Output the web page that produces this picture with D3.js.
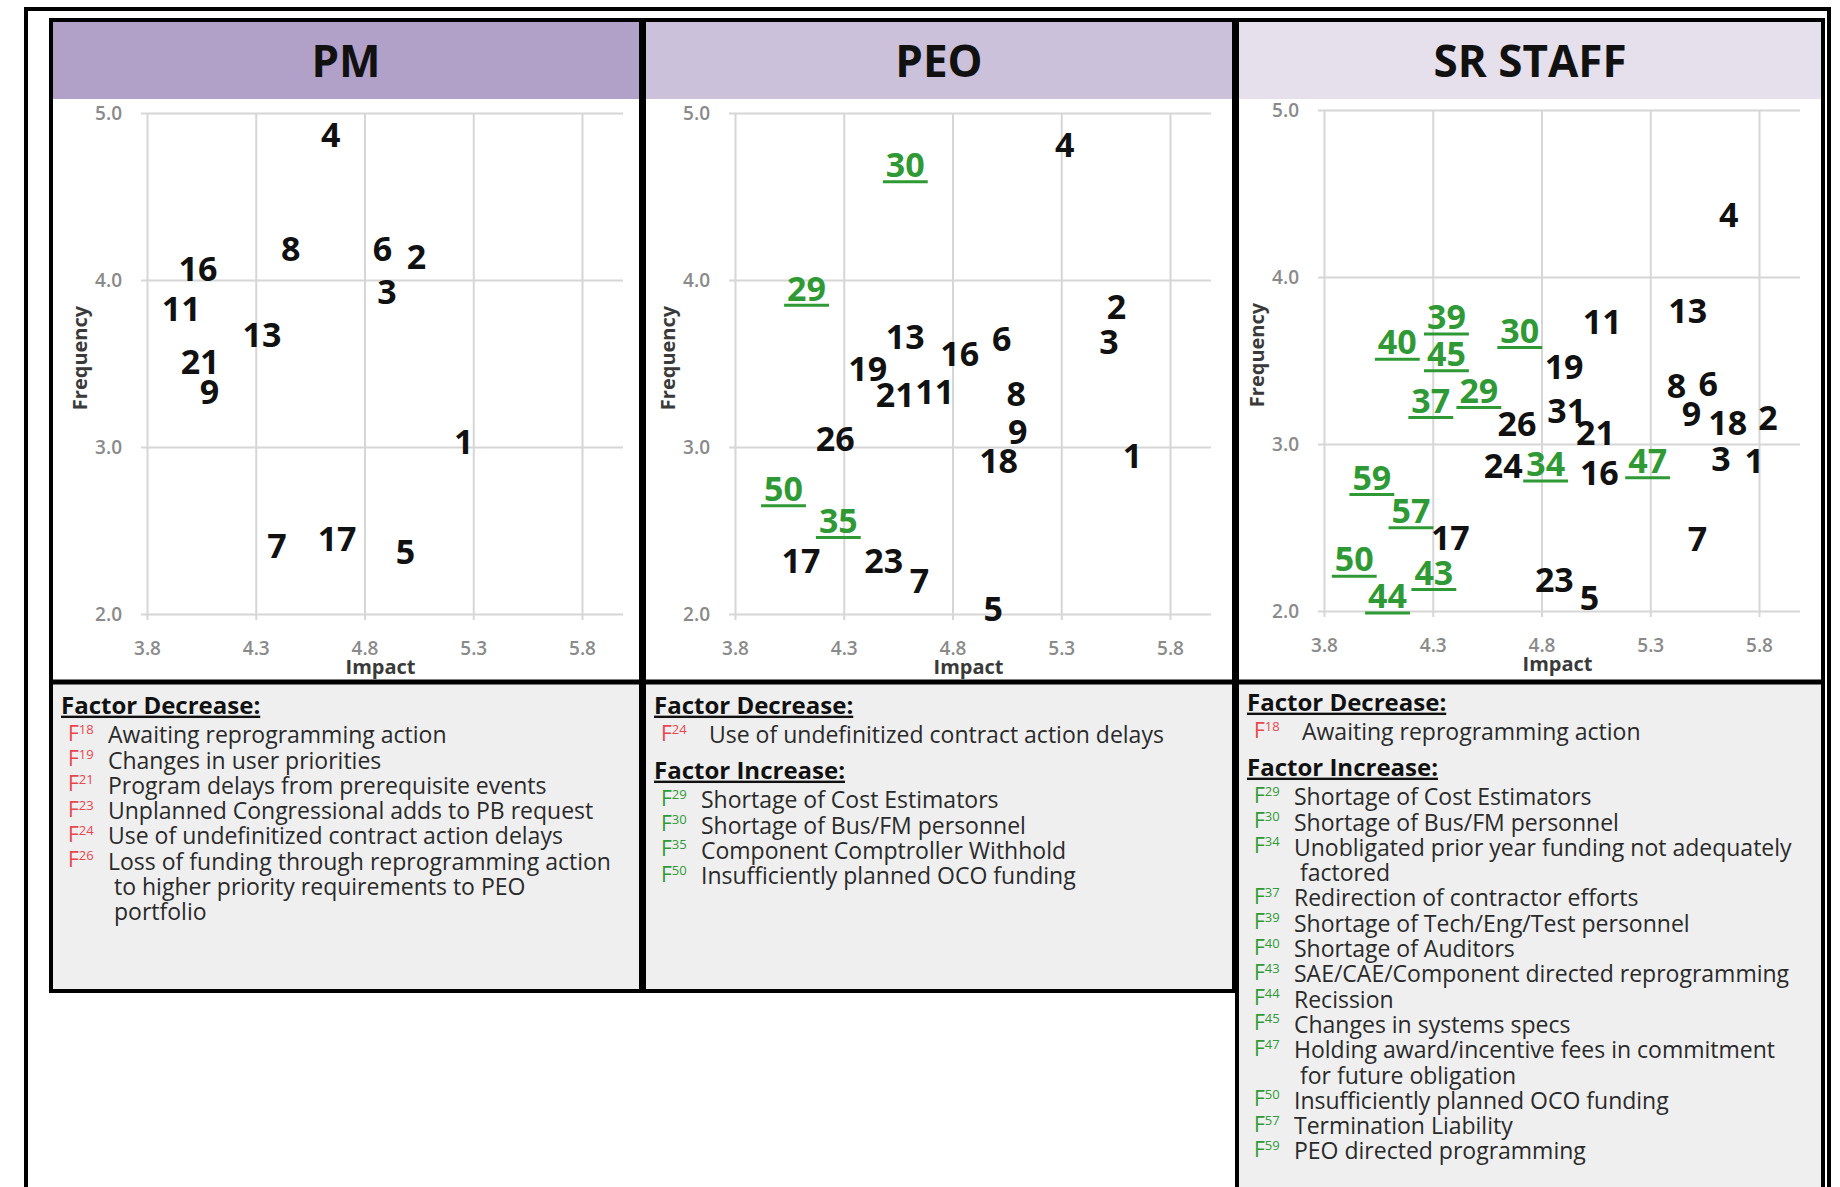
<!DOCTYPE html>
<html>
<head>
<meta charset="utf-8">
<script src="https://cdn.jsdelivr.net/npm/d3@7"></script>
<style>
  body { margin: 0; background: #fff; }
  svg { display: block; }
</style>
</head>
<body>
<div id="chart"></div>
<script>
// axis ticks, shared by all three panels
const impactTicks = [3.8, 4.3, 4.8, 5.3, 5.8];
const freqTicks = [2.0, 3.0, 4.0, 5.0];

// PM
const pmFactors = ["4", "8", "16", "6", "2", "3", "11", "13", "21", "9", "1", "7", "17", "5"];
const pmImpact  = [4.645, 4.461, 4.034, 4.883, 5.039, 4.903, 3.957, 4.329, 4.044, 4.087, 5.256, 4.397, 4.674, 4.988];
const pmFreq    = [4.87, 4.19, 4.07, 4.19, 4.14, 3.93, 3.83, 3.67, 3.51, 3.33, 3.03, 2.41, 2.45, 2.37];
const pmIncrease = [];

// PEO
const peoFactors = ["30", "4", "29", "2", "3", "13", "6", "16", "19", "21", "11", "8", "26", "9", "18", "1", "50", "35", "17", "23", "7", "5"];
const peoImpact  = [4.583, 5.316, 4.129, 5.554, 5.519, 4.583, 5.026, 4.833, 4.410, 4.537, 4.718, 5.093, 4.261, 5.100, 5.012, 5.628, 4.023, 4.275, 4.103, 4.484, 4.648, 4.987];
const peoFreq    = [4.69, 4.81, 3.95, 3.84, 3.63, 3.66, 3.65, 3.56, 3.47, 3.31, 3.33, 3.32, 3.05, 3.09, 2.92, 2.95, 2.75, 2.56, 2.32, 2.32, 2.20, 2.03];
const peoIncrease = ["30", "29", "50", "35"];

// SR STAFF
const srFactors = ["4", "13", "11", "39", "40", "30", "45", "19", "8", "6", "29", "37", "31", "9", "18", "2", "26", "21", "24", "34", "16", "47", "3", "1", "59", "57", "17", "7", "50", "43", "23", "44", "5"];
const srImpact  = [5.661, 5.472, 5.079, 4.363, 4.137, 4.700, 4.363, 4.904, 5.421, 5.566, 4.512, 4.291, 4.916, 5.490, 5.656, 5.841, 4.687, 5.048, 4.624, 4.819, 5.066, 5.288, 5.625, 5.778, 4.020, 4.200, 4.381, 5.517, 3.939, 4.305, 4.859, 4.092, 5.021];
const srFreq    = [4.37, 3.80, 3.73, 3.76, 3.61, 3.68, 3.54, 3.46, 3.35, 3.36, 3.32, 3.26, 3.20, 3.18, 3.13, 3.16, 3.12, 3.07, 2.87, 2.88, 2.83, 2.90, 2.91, 2.90, 2.80, 2.60, 2.44, 2.43, 2.31, 2.23, 2.19, 2.09, 2.08];
const srIncrease = ["39", "40", "30", "45", "29", "37", "34", "47", "59", "57", "50", "43", "44"];

// legend entries: factor number and its text lines
const pmDecrease = [
  { f: 18, lines: ["Awaiting reprogramming action"] },
  { f: 19, lines: ["Changes in user priorities"] },
  { f: 21, lines: ["Program delays from prerequisite events"] },
  { f: 23, lines: ["Unplanned Congressional adds to PB request"] },
  { f: 24, lines: ["Use of undefinitized contract action delays"] },
  { f: 26, lines: ["Loss of funding through reprogramming action", "to higher priority requirements to PEO", "portfolio"] }
];
const peoDecrease = [
  { f: 24, lines: ["Use of undefinitized contract action delays"] }
];
const peoIncreaseText = [
  { f: 29, lines: ["Shortage of Cost Estimators"] },
  { f: 30, lines: ["Shortage of Bus/FM personnel"] },
  { f: 35, lines: ["Component Comptroller Withhold"] },
  { f: 50, lines: ["Insufficiently planned OCO funding"] }
];
const srDecrease = [
  { f: 18, lines: ["Awaiting reprogramming action"] }
];
const srIncreaseText = [
  { f: 29, lines: ["Shortage of Cost Estimators"] },
  { f: 30, lines: ["Shortage of Bus/FM personnel"] },
  { f: 34, lines: ["Unobligated prior year funding not adequately", "factored"] },
  { f: 37, lines: ["Redirection of contractor efforts"] },
  { f: 39, lines: ["Shortage of Tech/Eng/Test personnel"] },
  { f: 40, lines: ["Shortage of Auditors"] },
  { f: 43, lines: ["SAE/CAE/Component directed reprogramming"] },
  { f: 44, lines: ["Recission"] },
  { f: 45, lines: ["Changes in systems specs"] },
  { f: 47, lines: ["Holding award/incentive fees in commitment", "for future obligation"] },
  { f: 50, lines: ["Insufficiently planned OCO funding"] },
  { f: 57, lines: ["Termination Liability"] },
  { f: 59, lines: ["PEO directed programming"] }
];

/* layout */
const width = 1840, height = 1187;
const font = "'Open Sans', 'DejaVu Sans', sans-serif";
const plotW = 435, plotH = 501;
const headTop = 20, headBottom = 99, divider = 682;
const red = "#e8464e", green = "#2f9a35";

const panels = [
  { title: "PM", left: 51, right: 641, bottom: 991, x0: 147, y0: 113, head: "#b1a1c8",
    factors: pmFactors, impact: pmImpact, freq: pmFreq, increase: pmIncrease,
    legend: [{ title: "Factor Decrease:", color: red, items: pmDecrease, dx: 0 }], dy: 0 },
  { title: "PEO", left: 644, right: 1234, bottom: 991, x0: 735, y0: 113, head: "#ccc1db",
    factors: peoFactors, impact: peoImpact, freq: peoFreq, increase: peoIncrease,
    legend: [{ title: "Factor Decrease:", color: red, items: peoDecrease, dx: 8 },
             { title: "Factor Increase:", color: green, items: peoIncreaseText, dx: 0 }], dy: 0 },
  { title: "SR STAFF", left: 1237, right: 1823, bottom: 1230, x0: 1324, y0: 110, head: "#e5e0ec",
    factors: srFactors, impact: srImpact, freq: srFreq, increase: srIncrease,
    legend: [{ title: "Factor Decrease:", color: red, items: srDecrease, dx: 8 },
             { title: "Factor Increase:", color: green, items: srIncreaseText, dx: 0 }], dy: -3 }
];

const svg = d3.select("#chart")
  .append("svg")
  .attr("width", width)
  .attr("height", height)
  .style("font-family", font);

// outer frame
svg.append("rect")
  .attr("x", 26).attr("y", 9)
  .attr("width", 1803).attr("height", 1300)
  .attr("fill", "none").attr("stroke", "#000").attr("stroke-width", 4);

panels.forEach(drawPanel);

function drawPanel(p) {
  const g = svg.append("g");
  const w = p.right - p.left;

  // backgrounds
  g.append("rect").attr("x", p.left).attr("y", headTop).attr("width", w).attr("height", p.bottom - headTop).attr("fill", "#fff");
  g.append("rect").attr("x", p.left).attr("y", headTop).attr("width", w).attr("height", headBottom - headTop).attr("fill", p.head);
  g.append("rect").attr("x", p.left).attr("y", divider).attr("width", w).attr("height", p.bottom - divider).attr("fill", "#efefef");

  g.append("text")
    .attr("x", p.left + w / 2).attr("y", 61)
    .attr("text-anchor", "middle").attr("dy", "0.36em")
    .attr("font-size", 44).attr("font-weight", 700).attr("fill", "#111")
    .text(p.title);

  /* scales */
  const x = d3.scaleLinear().domain([3.8, 5.8]).range([p.x0, p.x0 + plotW]);
  const y = d3.scaleLinear().domain([2, 5]).range([p.y0 + plotH, p.y0]);

  // horizontal grid + frequency ticks
  const gy = g.append("g")
    .attr("transform", `translate(${p.x0 - 6},0)`)
    .call(d3.axisLeft(y).tickValues(freqTicks).tickFormat(d3.format(".1f")).tickSize(-(plotW + 47)).tickPadding(19));

  // vertical grid + impact ticks
  const gx = g.append("g")
    .attr("transform", `translate(0,${p.y0})`)
    .call(d3.axisBottom(x).tickValues(impactTicks).tickFormat(d3.format(".1f")).tickSize(plotH + 6).tickPadding(22));

  [gx, gy].forEach(a => {
    a.select(".domain").remove();
    a.selectAll("line").attr("stroke", "#d6d6d6").attr("stroke-width", 2);
    a.selectAll("text").attr("font-family", font).attr("font-size", 19)
      .attr("font-weight", 600).attr("fill", "#8a8a8a");
  });

  g.append("text")
    .attr("x", x(4.8) + 16).attr("y", p.y0 + 554)
    .attr("text-anchor", "middle").attr("dy", "0.36em")
    .attr("font-size", 20).attr("font-weight", 700).attr("fill", "#3a3a3a")
    .text("Impact");

  g.append("text")
    .attr("transform", `translate(${p.x0 - 67},${p.y0 + 245}) rotate(-90)`)
    .attr("text-anchor", "middle").attr("dy", "0.36em")
    .attr("font-size", 20).attr("font-weight", 700).attr("fill", "#3a3a3a")
    .text("Frequency");

  /* factor labels */
  const points = p.factors.map((id, i) => ({
    id, impact: p.impact[i], freq: p.freq[i], up: p.increase.includes(id)
  }));

  const pt = g.selectAll("g.pt")
    .data(points)
    .join("g")
    .attr("class", "pt")
    .attr("transform", d => `translate(${x(d.impact)},${y(d.freq)})`);

  pt.append("text")
    .attr("text-anchor", "middle").attr("dy", "0.36em")
    .attr("font-size", 34).attr("font-weight", 700)
    .attr("fill", d => d.up ? green : "#111")
    .text(d => d.id);

  pt.filter(d => d.up).each(function () {
    const len = d3.select(this).select("text").node().getComputedTextLength();
    d3.select(this).append("line")
      .attr("x1", -len / 2 - 3).attr("x2", len / 2 + 3)
      .attr("y1", 17).attr("y2", 17)
      .attr("stroke", green).attr("stroke-width", 3);
  });

  /* legend */
  let cy = 705 + p.dy;
  p.legend.forEach((sec, si) => {
    if (si > 0) cy += 35;
    g.append("text")
      .attr("x", p.left + 10).attr("y", cy).attr("dy", "0.36em")
      .attr("font-size", 24).attr("font-weight", 700).attr("fill", "#111")
      .attr("text-decoration", "underline")
      .text(sec.title);
    cy += 30;
    sec.items.forEach((it, ii) => {
      if (ii > 0) cy += 25.3;
      const f = g.append("text")
        .attr("x", p.left + 17).attr("y", cy).attr("dy", "0.36em")
        .attr("fill", sec.color);
      f.append("tspan").attr("font-size", 21).text("F");
      f.append("tspan").attr("font-size", 13).attr("dy", -7).text(it.f);
      it.lines.forEach((line, li) => {
        if (li > 0) cy += 25.3;
        g.append("text")
          .attr("x", p.left + 57 + sec.dx + (li > 0 ? 6 : 0)).attr("y", cy).attr("dy", "0.36em")
          .attr("font-size", 23).attr("fill", "#2a2a2a")
          .text(line);
      });
    });
  });

  // panel border and dividers
  g.append("rect").attr("x", p.left).attr("y", headTop).attr("width", w).attr("height", p.bottom - headTop)
    .attr("fill", "none").attr("stroke", "#000").attr("stroke-width", 4);
  g.append("line").attr("x1", p.left).attr("x2", p.right).attr("y1", divider).attr("y2", divider)
    .attr("stroke", "#000").attr("stroke-width", 5);
}
</script>
</body>
</html>
